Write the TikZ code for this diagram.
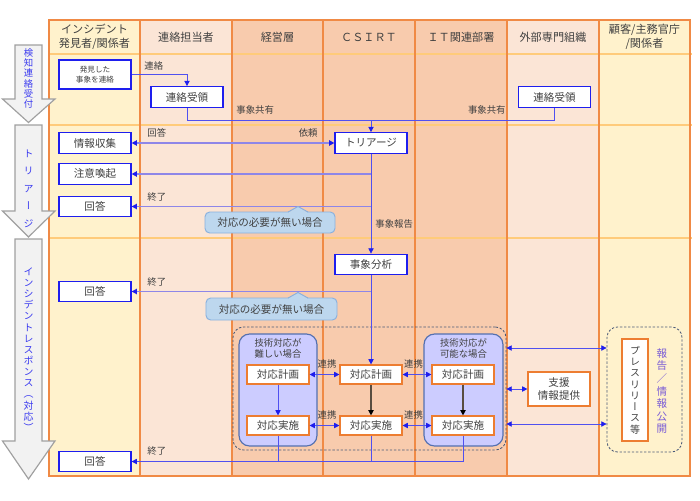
\documentclass[tikz,border=0pt]{standalone}
\usepackage{fontspec}
\setmainfont{Noto Sans CJK JP}
\newfontfamily\cjkv[RawFeature=+vert]{Noto Sans CJK JP}
\usetikzlibrary{arrows.meta,calc}
\definecolor{cyel}{HTML}{FFF2CC}
\definecolor{cpl}{HTML}{FBE5D6}
\definecolor{cpd}{HTML}{F8CBAD}
\definecolor{cbd}{HTML}{F08A45}
\definecolor{crow}{HTML}{FFCB7A}
\definecolor{ctxt}{HTML}{404040}
\definecolor{cblue}{HTML}{1E1EEE}
\definecolor{cline}{HTML}{5050F0}
\definecolor{csoft}{HTML}{8E86E8}
\definecolor{corange}{HTML}{ED7D31}
\definecolor{cgrp}{HTML}{CCCCFF}
\definecolor{cgrpb}{HTML}{5470B0}
\definecolor{cdash}{HTML}{4A5A78}
\definecolor{ccall}{HTML}{BDD7EE}
\definecolor{ccallb}{HTML}{88B0DE}
\definecolor{cgray}{HTML}{F2F2F2}
\definecolor{cgrayb}{HTML}{A0A0A0}
\definecolor{cphase}{HTML}{3A3AF0}
\definecolor{cpurple}{HTML}{7A5CD6}
\begin{document}
\begin{tikzpicture}[x=0.03cm,y=-0.03cm,
  bt/.tip={Triangle[width=4.5pt,length=4.5pt,color=cblue]},
  dt/.tip={Triangle[width=4.5pt,length=4.5pt,color=black]},
  colb/.style={draw=cbd,line width=1pt},
  rowl/.style={draw=crow,line width=1pt},
  phase/.style={draw=cgrayb,fill=cgray,line width=1pt},
  ptxt/.style={text=cphase,align=center,inner sep=0pt},
  hdr/.style={text=ctxt,font=\fontsize{9.5}{12}\selectfont,align=center},
  bbox/.style={draw=cblue,fill=white,line width=1pt,minimum width=2.16cm,minimum height=0.62cm,inner sep=0pt,text=ctxt,font=\fontsize{9}{11}\selectfont,align=center},
  obox/.style={draw=corange,fill=white,line width=1pt,minimum width=1.86cm,minimum height=0.57cm,inner sep=0pt,text=ctxt,font=\fontsize{9}{11}\selectfont,align=center},
  lbl/.style={text=ctxt,font=\fontsize{8}{9}\selectfont,inner sep=1pt},
  flow/.style={draw=cline,line width=0.7pt},
  soft/.style={draw=csoft,line width=1.2pt},
  dark/.style={draw=ctxt!80!brown,line width=1pt},
  callbox/.style={draw=ccallb,fill=ccall,line width=0.8pt,rounded corners=4pt,inner sep=0pt,text=ctxt,font=\fontsize{9}{11}\selectfont},
  dgrp/.style={draw=cdash,line width=0.7pt,dash pattern=on 2pt off 1.5pt,rounded corners=9pt,inner sep=0pt},
  igrp/.style={draw=cgrpb,fill=cgrp,line width=1pt,rounded corners=9pt,inner sep=0pt},
  glbl/.style={text=ctxt,font=\fontsize{8}{9.5}\selectfont,align=center,inner sep=0pt}
]
\useasboundingbox (0,0) rectangle (700,500);
% columns
\fill[cyel] (49,20) rectangle (140,476);
\fill[cpl] (140,20) rectangle (232,476);
\fill[cpd] (232,20) rectangle (507,476);
\fill[cpl] (507,20) rectangle (599,476);
\fill[cyel] (599,20) rectangle (690,476);
\draw[rowl] (49,54) -- (692,54);
\draw[rowl] (49,125) -- (692,125);
\draw[rowl] (49,238) -- (692,238);
\draw[colb] (49,20) rectangle (140,476);
\draw[colb] (140,20) rectangle (232,476);
\draw[colb] (232,20) rectangle (323,476);
\draw[colb] (323,20) rectangle (415,476);
\draw[colb] (415,20) rectangle (507,476);
\draw[colb] (507,20) rectangle (599,476);
\draw[colb] (599,20) rectangle (690,476);
% headers
\node[hdr] (h1) at (94.5,37) {インシデント\\発見者/関係者};
\node[hdr] (h2) at (186,37) {連絡担当者};
\node[hdr] (h3) at (277.5,37) {経営層};
\node[hdr] (h4) at (369,37) {ＣＳＩＲＴ};
\node[hdr] (h5) at (461,37) {ＩＴ関連部署};
\node[hdr] (h6) at (553,37) {外部専門組織};
\node[hdr] (h7) at (644.5,37) {顧客/主務官庁\\/関係者};
% phase arrows
\draw[phase] (15,45) -- (42,45) -- (42,99) -- (55,99) -- (28.5,122.5) -- (2.5,99) -- (15,99) -- cycle;
\draw[phase] (15,125) -- (42,125) -- (42,211) -- (55,211) -- (28.5,237) -- (2.5,211) -- (15,211) -- cycle;
\draw[phase] (15,239) -- (42,239) -- (42,441) -- (55,441) -- (28.5,479) -- (2.5,441) -- (15,441) -- cycle;
\node[ptxt,font=\cjkv\fontsize{8}{8.7}\selectfont] (p1) at (28.5,78.5) {検\\知\\連\\絡\\受\\付};
\node[ptxt,font=\cjkv\fontsize{8.5}{15}\selectfont] (p2) at (28.5,188.5) {ト\\リ\\ア\\ー\\ジ};
\node[ptxt,font=\cjkv\fontsize{8.5}{9.5}\selectfont] (p3) at (28.5,349.5) {イ\\ン\\シ\\デ\\ン\\ト\\レ\\ス\\ポ\\ン\\ス\\（\\対\\応\\）};
% blue nodes
\node[bbox,minimum height=0.87cm,font=\fontsize{6.5}{9}\selectfont] (find) at (95,74.5) {発見した\\事象を連絡};
\node[bbox] (rcv1) at (187,97) {連絡受領};
\node[bbox] (rcv2) at (554.5,97) {連絡受領};
\node[bbox] (tri) at (371,143) {トリアージ};
\node[bbox] (info) at (95,143) {情報収集};
\node[bbox] (warn) at (95,174) {注意喚起};
\node[bbox] (ans1) at (95,206.5) {回答};
\node[bbox] (ana) at (371,264.5) {事象分析};
\node[bbox] (ans2) at (95,291.5) {回答};
\node[bbox] (ans3) at (95,461.5) {回答};
% groups
\node[dgrp,minimum width=8.19cm,minimum height=3.69cm] (dg) at (369.5,388.5) {};
\node[igrp,minimum width=2.34cm,minimum height=3.36cm] (gl) at (278,390) {};
\node[igrp,minimum width=2.37cm,minimum height=3.36cm] (gr) at (463.5,390) {};
\node[dgrp,minimum width=2.25cm,minimum height=3.75cm] (pg) at (644.5,389.5) {};
\node[glbl] (glt) at (278,348) {技術対応が\\難しい場合};
\node[glbl] (grt) at (463.5,348) {技術対応が\\可能な場合};
% orange nodes
\node[obox] (planL) at (278,374.5) {対応計画};
\node[obox] (execL) at (278,425.5) {対応実施};
\node[obox] (planC) at (371,374.5) {対応計画};
\node[obox] (execC) at (371,425.5) {対応実施};
\node[obox] (planR) at (463,374.5) {対応計画};
\node[obox] (execR) at (463,425.5) {対応実施};
\node[obox,minimum height=1.02cm] (sup) at (559,389) {支援\\情報提供};
\node[obox,minimum width=0.78cm,minimum height=3.06cm,font=\cjkv\fontsize{8.5}{9.6}\selectfont] (press) at (635,390) {プ\\レ\\ス\\リ\\リ\\ー\\ス\\等};
\node[text=cpurple,align=center,inner sep=0pt,font=\fontsize{9}{10.7}\selectfont] (pub) at (662,391) {報\\告\\／\\情\\報\\公\\開};
% connectors
\coordinate (j) at (371,120);
\coordinate (ya) at (0,348);
\coordinate (yb) at (0,424);
\draw[flow,-bt] (find.east) -- (rcv1.north |- find.east) -- (rcv1.north);
\draw[flow,-bt] (rcv1.south) |- (j) -- (tri.north);
\draw[flow] (rcv2.south) |- (j);
\draw[soft,bt-bt] (info.east) -- (tri.west);
\draw[flow,-bt] (tri.south) -- (ana.north);
\draw[soft,-bt] (tri.south |- warn.east) -- (warn.east);
\draw[soft,-bt] (tri.south |- ans1.east) -- (ans1.east);
\draw[flow,-bt] (ana.south) -- (planC.north);
\draw[soft,-bt] (ana.south |- ans2.east) -- (ans2.east);
\draw[flow,-bt] (planL) -- (execL);
\draw[dark,-dt] (planC) -- (execC);
\draw[dark,-dt] (planR) -- (execR);
\draw[flow,bt-bt] (planL.east) -- (planC.west);
\draw[flow,bt-bt] (planC.east) -- (planR.west);
\draw[flow,bt-bt] (execL.east) -- (execC.west);
\draw[flow,bt-bt] (execC.east) -- (execR.west);
\draw[flow] (execL.south) -- (execL.south |- ans3.east);
\draw[flow] (execC.south) -- (execC.south |- ans3.east);
\draw[flow,-bt] (execR.south) |- (ans3.east);
\draw[flow,bt-bt] (dg.east |- ya) -- (pg.west |- ya);
\draw[flow,bt-bt] (dg.east |- sup.west) -- (sup.west);
\draw[flow,bt-bt] (dg.east |- yb) -- (pg.west |- yb);
% callouts
\node[callbox,minimum width=3.9cm,minimum height=0.63cm] (nn1) at (270,222.5) {対応の必要が無い場合};
\fill[ccall] (288,213) -- (298,206.5) -- (308,213) -- cycle;
\draw[ccallb,line width=0.8pt] (288,212) -- (298,206.5) -- (308,212);
\node[callbox,minimum width=3.93cm,minimum height=0.66cm] (nn2) at (271.5,309) {対応の必要が無い場合};
\fill[ccall] (288,299) -- (298,292.5) -- (308,299) -- cycle;
\draw[ccallb,line width=0.8pt] (288,298) -- (298,292.5) -- (308,298);
% labels
\node[lbl,anchor=west] (l1) at (143,66) {連絡};
\node[lbl,anchor=west] (l2) at (235,110) {事象共有};
\node[lbl,anchor=east] (l3) at (507,110) {事象共有};
\node[lbl,anchor=west] (l4) at (146,133) {回答};
\node[lbl,anchor=east] (l5) at (319,133) {依頼};
\node[lbl,anchor=west] (l6) at (146,197) {終了};
\node[lbl,anchor=west] (l7) at (374,224) {事象報告};
\node[lbl,anchor=west] (l8) at (146,282) {終了};
\node[lbl,anchor=west] (l9) at (146,451) {終了};
\node[lbl] (k1) at (327,364) {連携};
\node[lbl] (k2) at (413.5,364) {連携};
\node[lbl] (k3) at (327,415) {連携};
\node[lbl] (k4) at (413.5,415) {連携};
\end{tikzpicture}
\end{document}
